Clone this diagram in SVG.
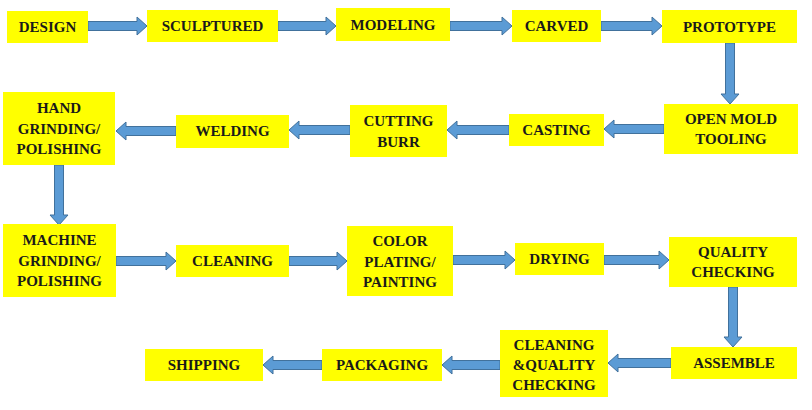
<svg xmlns="http://www.w3.org/2000/svg" width="812" height="410" viewBox="0 0 812 410">
<style>
.b{fill:#ffff00}
.t{font-family:"Liberation Serif","Times New Roman",serif;font-weight:bold;font-size:15px;fill:#1a1a1a;text-anchor:middle;dominant-baseline:central}
.a{fill:#5b9bd5;stroke:#41719c;stroke-width:1}
</style>
<rect width="812" height="410" fill="#ffffff"/>
<defs>
<polygon id="ar" points="0,-4.5 -10,-4.5 -10,-9 0,0 -10,9 -10,4.5" />
</defs>
<g id="connectors">
<!-- right arrows: shaft then head -->
<polygon class="a" points="88,21.5 137,21.5 137,17 147,26 137,35 137,30.5 88,30.5"/>
<polygon class="a" points="278,21.5 326,21.5 326,17 336,26 326,35 326,30.5 278,30.5"/>
<polygon class="a" points="450,21.5 502,21.5 502,17 512,26 502,35 502,30.5 450,30.5"/>
<polygon class="a" points="601,21.5 652,21.5 652,17 662,26 652,35 652,30.5 601,30.5"/>
<polygon class="a" points="725.5,43 734.5,43 734.5,94 739,94 730,104 721,94 725.5,94"/>
<polygon class="a" points="664,124.5 614,124.5 614,120 604,129 614,138 614,133.5 664,133.5"/>
<polygon class="a" points="509,125.5 457,125.5 457,121 447,130 457,139 457,134.5 509,134.5"/>
<polygon class="a" points="350,125.5 299,125.5 299,121 289,130 299,139 299,134.5 350,134.5"/>
<polygon class="a" points="176,126.5 126,126.5 126,122 116,131 126,140 126,135.5 176,135.5"/>
<polygon class="a" points="54.5,165 63.5,165 63.5,215 68,215 59,225 50,215 54.5,215"/>
<polygon class="a" points="116,256.5 166,256.5 166,252 176,261 166,270 166,265.5 116,265.5"/>
<polygon class="a" points="289,256.5 337,256.5 337,252 347,261 337,270 337,265.5 289,265.5"/>
<polygon class="a" points="453,255.5 505,255.5 505,251 515,260 505,269 505,264.5 453,264.5"/>
<polygon class="a" points="604,255.5 659,255.5 659,251 669,260 659,269 659,264.5 604,264.5"/>
<polygon class="a" points="728.5,287 737.5,287 737.5,337 742,337 733,347 724,337 728.5,337"/>
<polygon class="a" points="671,358.5 618,358.5 618,354 608,363 618,372 618,367.5 671,367.5"/>
<polygon class="a" points="500,360.5 452,360.5 452,356 442,365 452,374 452,369.5 500,369.5"/>
<polygon class="a" points="322,360.5 273,360.5 273,356 263,365 273,374 273,369.5 322,369.5"/>
</g>
<g id="design"><rect class="b" x="7" y="11" width="81" height="32"/><text class="t" x="47.5" y="27">DESIGN</text></g>
<g id="sculptured"><rect class="b" x="147" y="10" width="131" height="32"/><text class="t" x="212.5" y="26">SCULPTURED</text></g>
<g id="modeling"><rect class="b" x="336" y="8" width="114" height="33"/><text class="t" x="393" y="24.5">MODELING</text></g>
<g id="carved"><rect class="b" x="512" y="10" width="89" height="32"/><text class="t" x="556.5" y="26">CARVED</text></g>
<g id="prototype"><rect class="b" x="662" y="10" width="135" height="33"/><text class="t" x="729.5" y="26.5">PROTOTYPE</text></g>
<g id="open-mold"><rect class="b" x="664" y="104" width="134" height="50"/><text class="t" x="731" y="119">OPEN MOLD</text><text class="t" x="731" y="139">TOOLING</text></g>
<g id="casting"><rect class="b" x="509" y="114" width="95" height="32"/><text class="t" x="556.5" y="130">CASTING</text></g>
<g id="cutting-burr"><rect class="b" x="350" y="105" width="97" height="52"/><text class="t" x="398.5" y="121">CUTTING</text><text class="t" x="398.5" y="142">BURR</text></g>
<g id="welding"><rect class="b" x="176" y="115" width="113" height="33"/><text class="t" x="232.5" y="131">WELDING</text></g>
<g id="hand-grinding"><rect class="b" x="3" y="92" width="112" height="73"/><text class="t" x="59" y="108">HAND</text><text class="t" x="59" y="128.5">GRINDING/</text><text class="t" x="59" y="149">POLISHING</text></g>
<g id="machine-grinding"><rect class="b" x="3" y="224" width="113" height="73"/><text class="t" x="59.5" y="240">MACHINE</text><text class="t" x="59.5" y="260.5">GRINDING/</text><text class="t" x="59.5" y="281">POLISHING</text></g>
<g id="cleaning"><rect class="b" x="176" y="245" width="113" height="32"/><text class="t" x="232.5" y="261">CLEANING</text></g>
<g id="color-plating"><rect class="b" x="347" y="226" width="106" height="70"/><text class="t" x="400" y="241">COLOR</text><text class="t" x="400" y="261.5">PLATING/</text><text class="t" x="400" y="282">PAINTING</text></g>
<g id="drying"><rect class="b" x="515" y="243" width="89" height="32"/><text class="t" x="559.5" y="259">DRYING</text></g>
<g id="quality-checking"><rect class="b" x="669" y="237" width="128" height="50"/><text class="t" x="733" y="252">QUALITY</text><text class="t" x="733" y="272">CHECKING</text></g>
<g id="assemble"><rect class="b" x="671" y="347" width="126" height="32"/><text class="t" x="734" y="363">ASSEMBLE</text></g>
<g id="cleaning-quality"><rect class="b" x="500" y="330" width="108" height="67"/><text class="t" x="554" y="345">CLEANING</text><text class="t" x="554" y="365">&amp;QUALITY</text><text class="t" x="554" y="385">CHECKING</text></g>
<g id="packaging"><rect class="b" x="322" y="349" width="120" height="32"/><text class="t" x="382" y="365">PACKAGING</text></g>
<g id="shipping"><rect class="b" x="145" y="349" width="118" height="32"/><text class="t" x="204" y="365">SHIPPING</text></g>
</svg>
